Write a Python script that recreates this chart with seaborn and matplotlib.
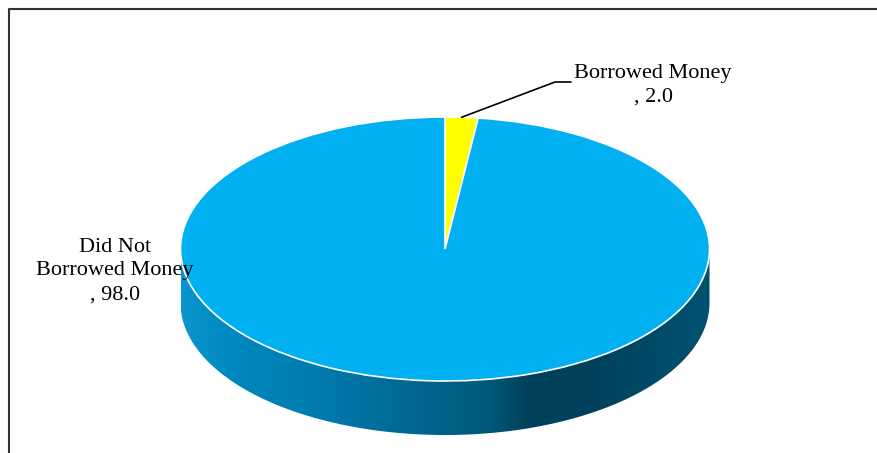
import numpy as np
import matplotlib
matplotlib.use("Agg")
import matplotlib.pyplot as plt
import seaborn as sns
from matplotlib.colors import LinearSegmentedColormap
from matplotlib.patches import Polygon
from matplotlib.lines import Line2D

# data
categories = ["Borrowed Money", "Did Not\nBorrowed Money"]
values = [2.0, 98.0]
colors = ["#FFFF00", "#00B0F0"]

sns.set_theme(style="white")
plt.rcParams["font.family"] = ["Liberation Serif", "DejaVu Serif"]

W, H = 877, 453
fig = plt.figure(figsize=(W / 100, H / 100), dpi=100)
ax = fig.add_axes([0, 0, 1, 1])

# ellipse geometry in pixels (center, radii, thickness of the disc)
cx, cy, rx, ry, depth = 445, 249, 264.5, 132, 54


def px(x, y):
    return (x - cx) / rx, (cy - y) / ry


# top face of the pie
wedges, _ = ax.pie(values, colors=colors, startangle=90, counterclock=False,
                   radius=1, wedgeprops=dict(edgecolor="white", linewidth=1.2))
for w in wedges:
    w.set_zorder(3)

# side of the disc, shaded left to right
d = depth / ry
t = np.linspace(np.pi, 2 * np.pi, 400)
upper = np.column_stack([np.cos(t), np.sin(t)])
lower = np.column_stack([np.cos(t[::-1]), np.sin(t[::-1]) - d])
side = Polygon(np.vstack([upper, lower]), closed=True, facecolor="none", edgecolor="none")
ax.add_patch(side)
side_cmap = LinearSegmentedColormap.from_list("side", [
    (0.0, "#0b95ce"), (0.09, "#0089c0"), (0.28, "#0079aa"), (0.45, "#006790"),
    (0.58, "#00587a"), (0.66, "#00405a"), (0.8, "#00435e"), (1.0, "#005272")])
grad = np.linspace(0, 1, 256)[None, :]
im = ax.imshow(grad, cmap=side_cmap, extent=[-1, 1, -1 - d, 0], aspect="auto", zorder=1)
im.set_clip_path(side)

# labels
ax.text(*px(653, 85), f"{categories[0]}\n, {values[0]:.1f}", ha="center", va="center",
        fontsize=16, linespacing=1.35, color="black", zorder=5)
ax.text(*px(115, 271), f"{categories[1]}\n, {values[1]:.1f}", ha="center", va="center",
        fontsize=16, linespacing=1.35, color="black", zorder=5)

# leader line for the small slice
mid = np.deg2rad(90 - values[0] / sum(values) * 360 / 2)
anchor = (np.cos(mid), np.sin(mid))
ax.plot([anchor[0], px(555, 82)[0], px(571, 82)[0]],
        [anchor[1], px(555, 82)[1], px(571, 82)[1]], color="black", lw=1.2, zorder=4)

ax.set_aspect("auto")
ax.set_xlim(-cx / rx, (W - cx) / rx)
ax.set_ylim((cy - H) / ry, cy / ry)
ax.axis("off")

# outer frame (only top and left visible)
fig.add_artist(Line2D([9 / W, 9 / W, 1.01], [-0.01, 1 - 8.5 / H, 1 - 8.5 / H],
                      transform=fig.transFigure, color="#333333", lw=1.5))

fig.savefig("out.png", dpi=100)
